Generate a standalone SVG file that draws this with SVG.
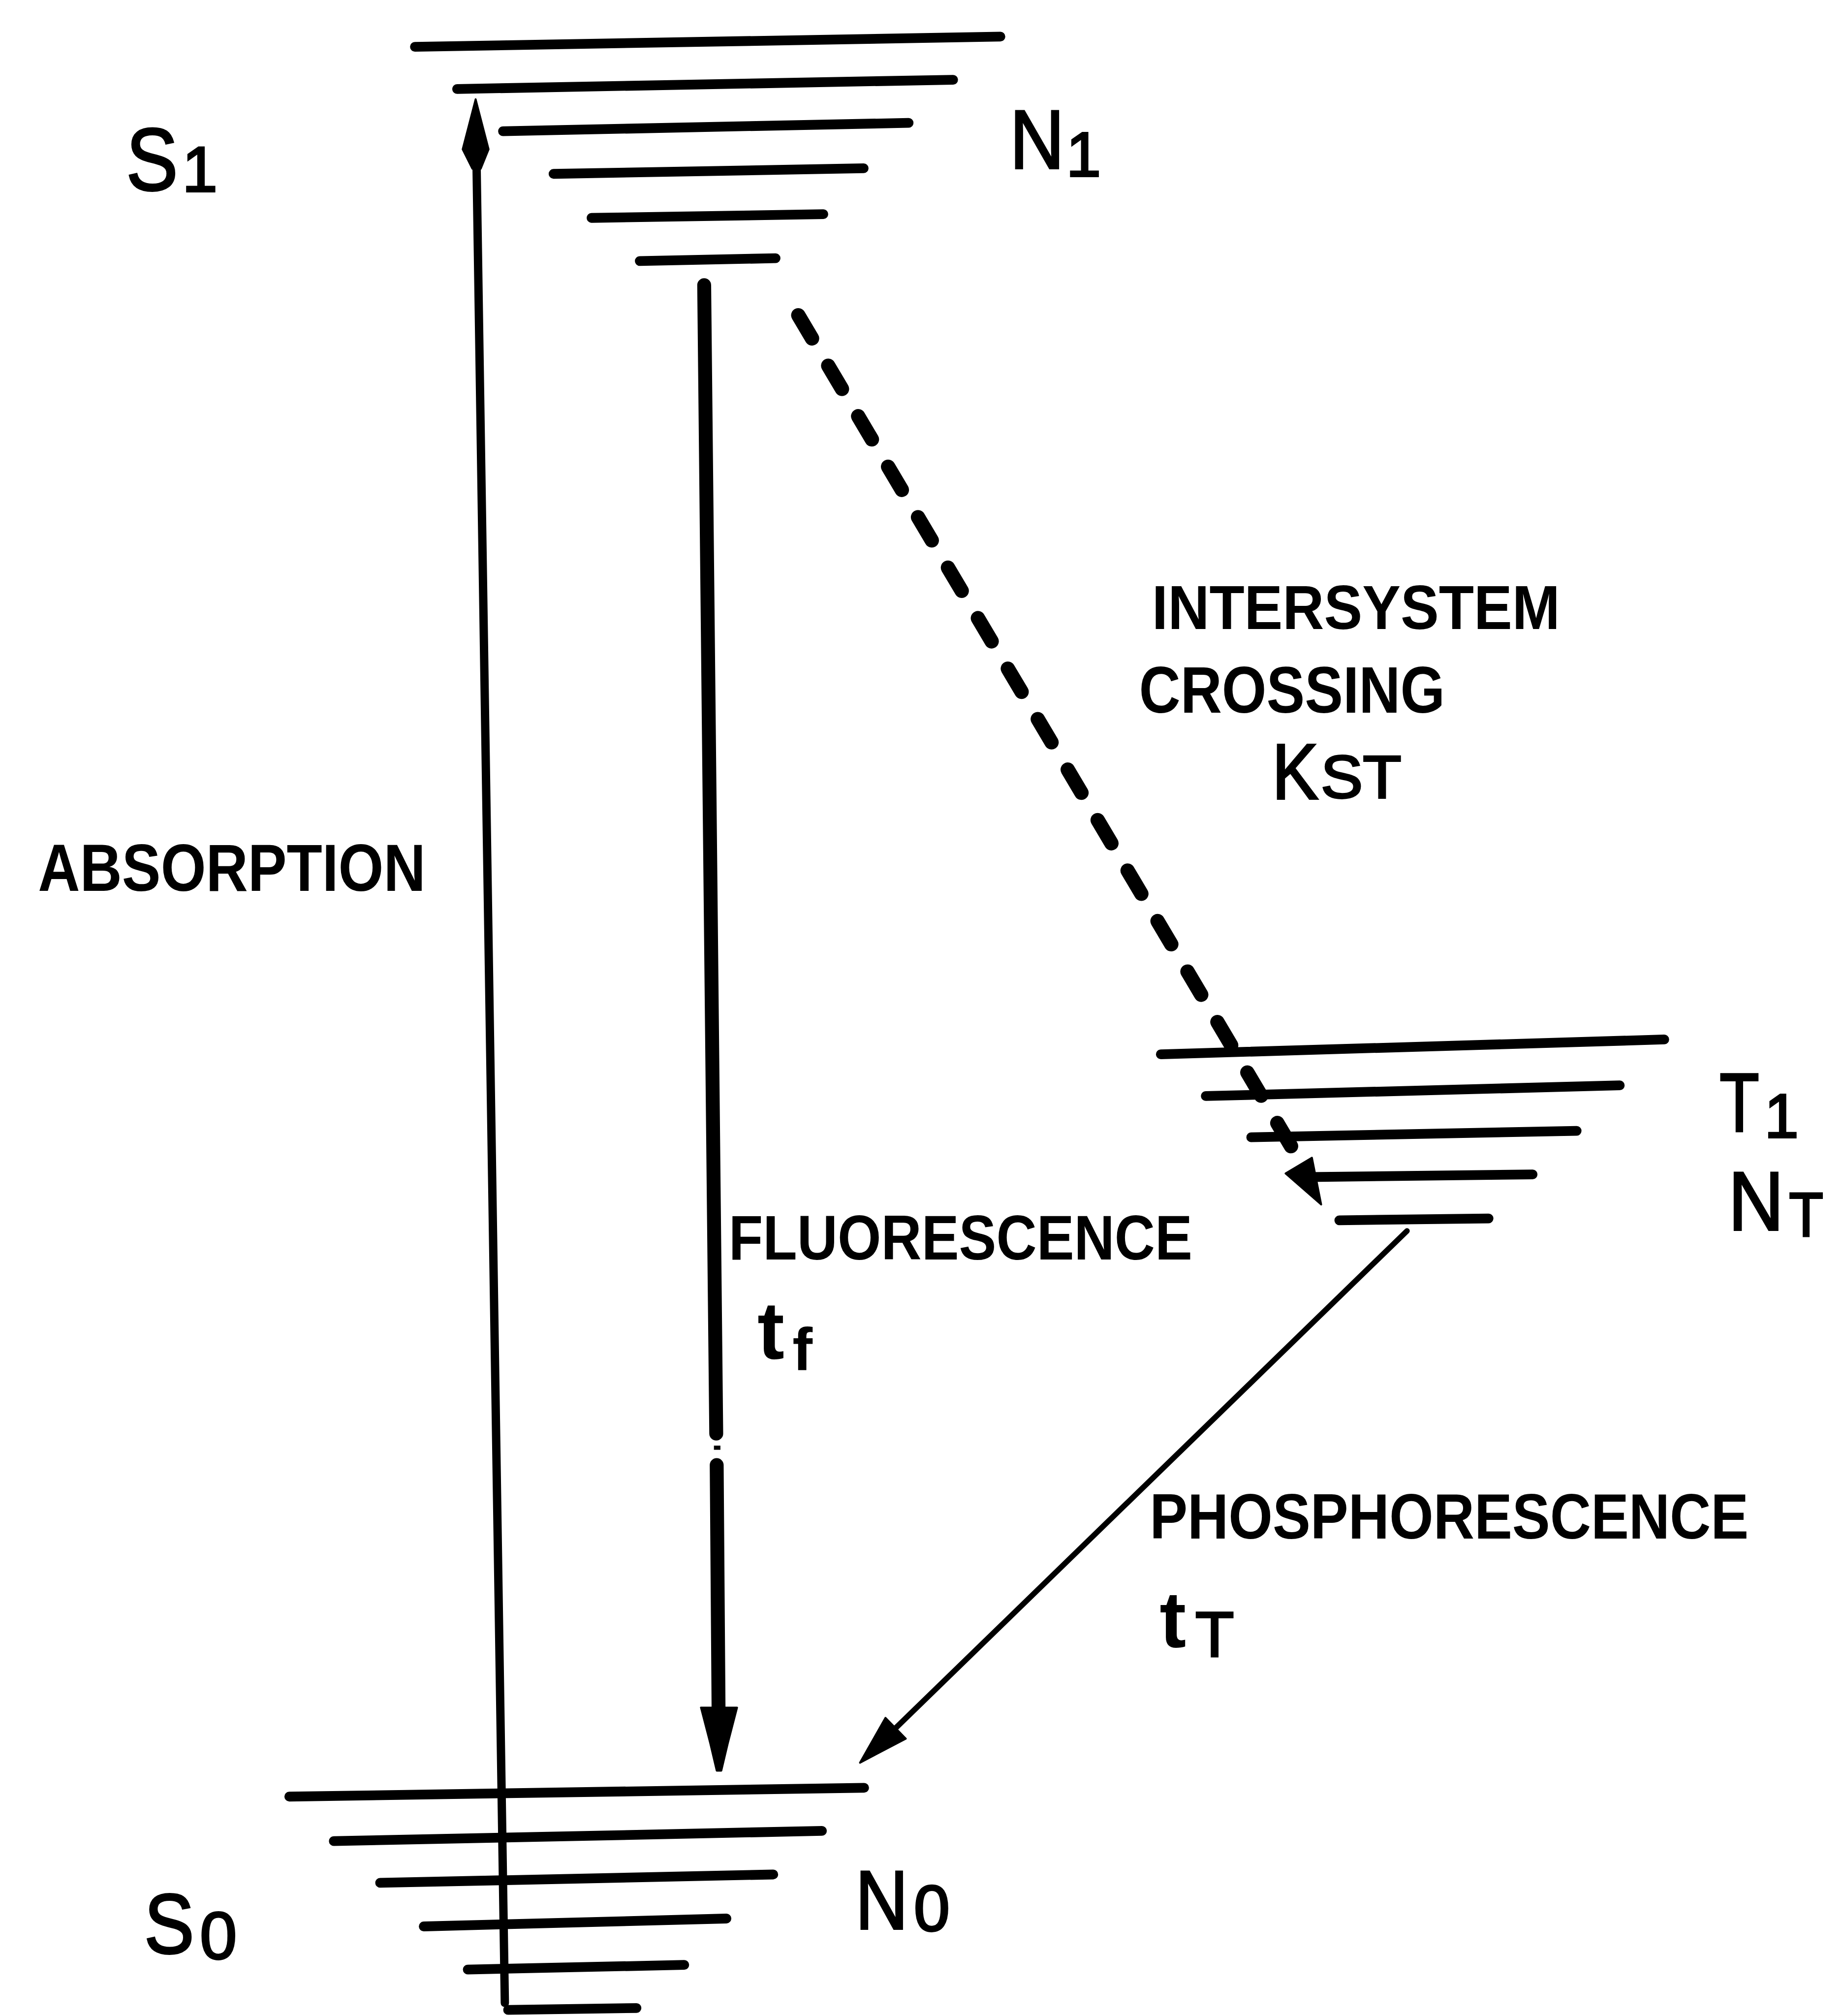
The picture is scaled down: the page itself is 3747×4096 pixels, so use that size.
<svg xmlns="http://www.w3.org/2000/svg" width="3747" height="4096" viewBox="0 0 3747 4096">
<style>
.lvl{stroke:#000;stroke-width:21;stroke-linecap:round;fill:none}
.ab{stroke:#000;stroke-width:18;stroke-linecap:round;fill:none}
.fl{stroke:#000;stroke-width:30;stroke-linecap:round;fill:none}
.isc{stroke:#000;stroke-width:31;stroke-linecap:round;stroke-dasharray:58 68.6;fill:none}
.ph{stroke:#000;stroke-width:12;stroke-linecap:round;fill:none}
.head{fill:#000;stroke:#000;stroke-width:4;stroke-linejoin:round}
.lab{font-family:"Liberation Sans",Arial,sans-serif;fill:#000;stroke:#000;stroke-width:4}
.proc{font-family:"Liberation Sans",Arial,sans-serif;font-weight:bold;fill:#000}
</style>
<rect width="3747" height="4096" fill="#fff"/>
<g transform="scale(0.942)">
<g id="S1">
<line class="lvl" x1="895" y1="101" x2="2158" y2="79"/>
<line class="lvl" x1="986" y1="192" x2="2056" y2="172"/>
<line class="lvl" x1="1085" y1="283" x2="1960" y2="265"/>
<line class="lvl" x1="1194" y1="375" x2="1863" y2="363"/>
<line class="lvl" x1="1276" y1="470" x2="1776" y2="462"/>
<line class="lvl" x1="1380" y1="563" x2="1673" y2="557"/>
<text class="lab" x="272" y="410" font-size="191" textLength="112" lengthAdjust="spacingAndGlyphs">S</text>
<text class="lab" x="393" y="413" font-size="137">1</text>
<text class="lab" x="2178" y="363" font-size="179" textLength="118" lengthAdjust="spacingAndGlyphs">N</text>
<text class="lab" x="2300" y="380" font-size="135">1</text>
</g>
<g id="T1">
<line class="lvl" x1="2504" y1="2274" x2="3590" y2="2242"/>
<line class="lvl" x1="2601" y1="2364" x2="3494" y2="2341"/>
<line class="lvl" x1="2699" y1="2453" x2="3401" y2="2439"/>
<line class="lvl" x1="2800" y1="2539" x2="3306" y2="2533"/>
<line class="lvl" x1="2889" y1="2632" x2="3211" y2="2628"/>
<text class="lab" transform="translate(3709,2439) scale(0.78,1)" x="0" y="0" font-size="180">T</text>
<text class="lab" x="3806" y="2453" font-size="133">1</text>
<text class="lab" x="3728" y="2653" font-size="179" textLength="120" lengthAdjust="spacingAndGlyphs">N</text>
<text class="lab" x="3859" y="2666" font-size="134" textLength="74" lengthAdjust="spacingAndGlyphs">T</text>
</g>
<g id="S0">
<line class="lvl" x1="624" y1="3875" x2="1864" y2="3856"/>
<line class="lvl" x1="720" y1="3971" x2="1773" y2="3949"/>
<line class="lvl" x1="820" y1="4061" x2="1668" y2="4043"/>
<line class="lvl" x1="914" y1="4155" x2="1567" y2="4138"/>
<line class="lvl" x1="1009" y1="4248" x2="1476" y2="4238"/>
<line class="lvl" x1="1096" y1="4335" x2="1373" y2="4331"/>
<text class="lab" x="311" y="4212" font-size="184" textLength="108" lengthAdjust="spacingAndGlyphs">S</text>
<text class="lab" x="431" y="4225" font-size="144">0</text>
<text class="lab" x="1845" y="4160" font-size="179" textLength="114" lengthAdjust="spacingAndGlyphs">N</text>
<text class="lab" x="1971" y="4165" font-size="140">0</text>
</g>
<g id="connectors">
<g id="absorption">
<line class="ab" x1="1089" y1="4320" x2="1028" y2="355"/>
<polygon class="head" points="1026,214 1054,322 1037,364 1019,364 998,322"/>
</g>
<g id="fluorescence">
<line class="fl" x1="1519" y1="615" x2="1545" y2="3092"/>
<line class="fl" x1="1546" y1="3160" x2="1550" y2="3690"/>
<rect x="1540" y="3118" width="14" height="9" fill="#000"/>
<polygon class="head" points="1512,3683 1590,3683 1570,3760 1556,3819 1546,3819 1532,3760"/>
</g>
<g id="isc">
<path class="isc" d="M1722,680 L2786,2474"/>
<polygon class="head" points="2850,2598 2830,2497 2773,2531"/>
</g>
<g id="phosphorescence">
<line class="ph" x1="3035" y1="2655" x2="1928" y2="3731"/>
<polygon class="head" points="1855,3802 1910,3705 1954,3750"/>
</g>
</g>
<g id="labels">
<text class="proc" x="82" y="1921" font-size="144" textLength="836" lengthAdjust="spacingAndGlyphs">ABSORPTION</text>
<text class="proc" x="2485" y="1357" font-size="133" textLength="880" lengthAdjust="spacingAndGlyphs">INTERSYSTEM</text>
<text class="proc" x="2457" y="1537" font-size="141" textLength="660" lengthAdjust="spacingAndGlyphs">CROSSING</text>
<text class="lab" x="2744" y="1723" font-size="169" textLength="100" lengthAdjust="spacingAndGlyphs">K</text>
<text class="lab" x="2849" y="1721" font-size="130" textLength="174" lengthAdjust="spacingAndGlyphs">ST</text>
<text class="proc" x="1572" y="2717" font-size="135" textLength="1000" lengthAdjust="spacingAndGlyphs">FLUORESCENCE</text>
<text class="proc" x="1663" y="2931" font-size="175" text-anchor="middle">t</text>
<text class="proc" x="1731" y="2955" font-size="130" text-anchor="middle">f</text>
<text class="proc" x="2480" y="3318" font-size="137" textLength="1292" lengthAdjust="spacingAndGlyphs">PHOSPHORESCENCE</text>
<text class="proc" x="2530" y="3553" font-size="172" text-anchor="middle">t</text>
<text class="lab" x="2620" y="3573" font-size="137" text-anchor="middle">T</text>
</g>
</g>
</svg>
